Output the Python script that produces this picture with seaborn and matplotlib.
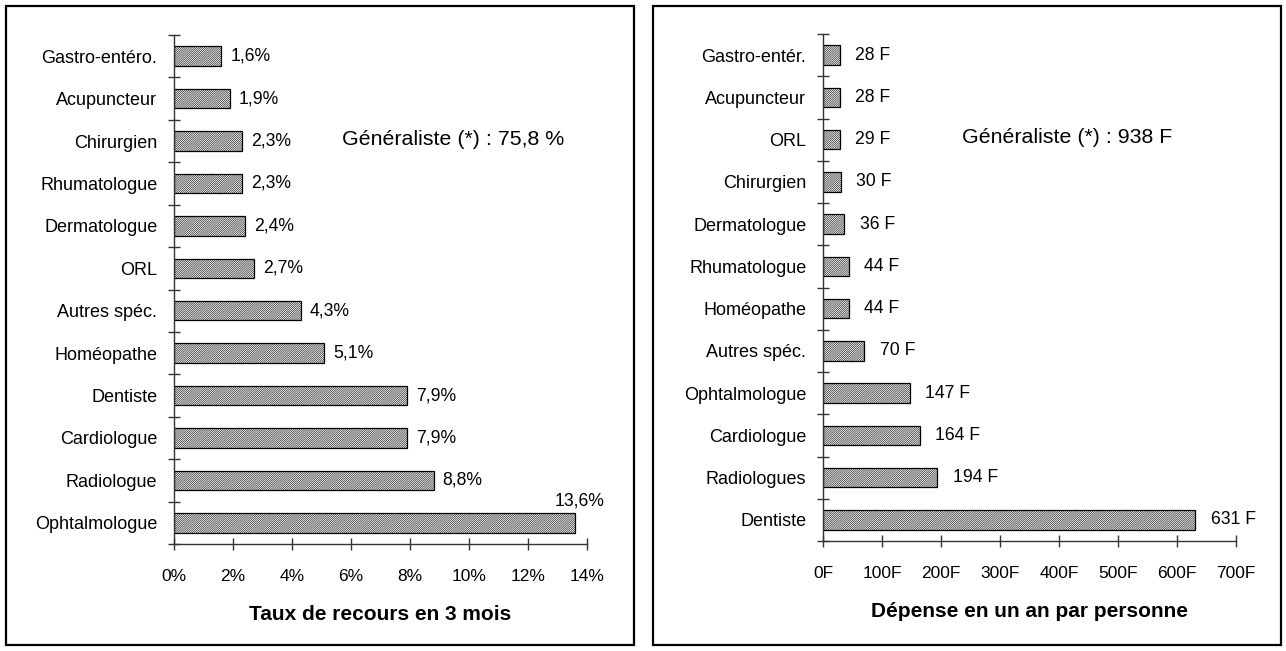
import numpy as np
import pandas as pd
import matplotlib
matplotlib.use('Agg')
import matplotlib.pyplot as plt
from matplotlib.patches import Rectangle
from matplotlib.ticker import FixedLocator, FuncFormatter
import seaborn as sns

# données : taux de recours en 3 mois (%)
spec_taux = ['Gastro-entéro.', 'Acupuncteur', 'Chirurgien', 'Rhumatologue', 'Dermatologue', 'ORL',
             'Autres spéc.', 'Homéopathe', 'Dentiste', 'Cardiologue', 'Radiologue', 'Ophtalmologue']
taux = [1.6, 1.9, 2.3, 2.3, 2.4, 2.7, 4.3, 5.1, 7.9, 7.9, 8.8, 13.6]

# données : dépense en un an par personne (F)
spec_dep = ['Gastro-entér.', 'Acupuncteur', 'ORL', 'Chirurgien', 'Dermatologue', 'Rhumatologue',
            'Homéopathe', 'Autres spéc.', 'Ophtalmologue', 'Cardiologue', 'Radiologues', 'Dentiste']
depense = [28, 28, 29, 30, 36, 44, 44, 70, 147, 164, 194, 631]

sns.set_style('white')
plt.rcParams['font.family'] = ['Liberation Sans', 'DejaVu Sans']
plt.rcParams['hatch.linewidth'] = 0.4
plt.rcParams['hatch.color'] = '#555555'
plt.rcParams['text.color'] = 'black'
plt.rcParams['axes.labelcolor'] = 'black'
plt.rcParams['xtick.labelcolor'] = 'black'
plt.rcParams['ytick.labelcolor'] = 'black'

fig = plt.figure(figsize=(12.86, 6.51), dpi=100)

# cadres
for x0, x1 in [(6, 634), (653, 1281)]:
    fig.patches.append(Rectangle((x0 / 1286, 6 / 651), (x1 - x0) / 1286, 639 / 651,
                                 transform=fig.transFigure, fill=False, edgecolor='black', lw=1.6))

ax1 = fig.add_axes([174 / 1286, 1 - 544 / 651, 413 / 1286, 509 / 651])
ax2 = fig.add_axes([823 / 1286, 1 - 541 / 651, 413 / 1286, 507 / 651])

df1 = pd.DataFrame({'spec': spec_taux, 'val': taux})
df2 = pd.DataFrame({'spec': spec_dep, 'val': depense})

for ax, df in [(ax1, df1), (ax2, df2)]:
    sns.barplot(data=df, x='val', y='spec', orient='h', ax=ax, color='white',
                edgecolor='black', linewidth=0.9, width=0.46, hatch='/' * 16)
    ax.set_ylim(11.5, -0.5)
    ax.set_ylabel('')
    for s in ['top', 'right']:
        ax.spines[s].set_visible(False)
    for s in ['left', 'bottom']:
        ax.spines[s].set_color('#333333')
        ax.spines[s].set_linewidth(1.0)
    ax.yaxis.set_minor_locator(FixedLocator(np.arange(-0.5, 12, 1)))
    ax.tick_params(axis='y', which='major', length=0, pad=12, labelsize=13)
    ax.tick_params(axis='y', which='minor', direction='inout', length=8, width=1, color='#333333', left=True)
    ax.tick_params(axis='x', direction='inout', length=8, width=1, color='#333333', bottom=True,
                   pad=14, labelsize=12.5)

# graphique de gauche
ax1.set_xlim(0, 14)
ax1.set_xticks(range(0, 15, 2))
ax1.xaxis.set_major_formatter(FuncFormatter(lambda v, p: f'{v:.0f}%'))
ax1.set_xlabel('Taux de recours en 3 mois', fontsize=15, fontweight='bold', labelpad=15)
for i, v in enumerate(taux):
    txt = f'{v:.1f}%'.replace('.', ',')
    if i == len(taux) - 1:
        ax1.annotate(txt, (v, i), xytext=(21, 16), textcoords='offset points',
                     ha='right', va='center', fontsize=12.7)
    else:
        ax1.annotate(txt, (v, i), xytext=(6.5, 0), textcoords='offset points',
                     ha='left', va='center', fontsize=12.7)
ax1.text(0.677, 0.795, 'Généraliste (*) : 75,8 %', transform=ax1.transAxes,
         ha='center', va='center', fontsize=15.4)

# graphique de droite
ax2.set_xlim(0, 700)
ax2.set_xticks(range(0, 701, 100))
ax2.xaxis.set_major_formatter(FuncFormatter(lambda v, p: f'{v:.0f}F'))
ax2.set_xlabel('Dépense en un an par personne', fontsize=15, fontweight='bold', labelpad=15)
for i, v in enumerate(depense):
    ax2.annotate(f'{v} F', (v, i), xytext=(11, 0), textcoords='offset points',
                 ha='left', va='center', fontsize=12.7)
ax2.text(0.591, 0.795, 'Généraliste (*) : 938 F', transform=ax2.transAxes,
         ha='center', va='center', fontsize=15.4)

fig.savefig('out.png', dpi=100)
